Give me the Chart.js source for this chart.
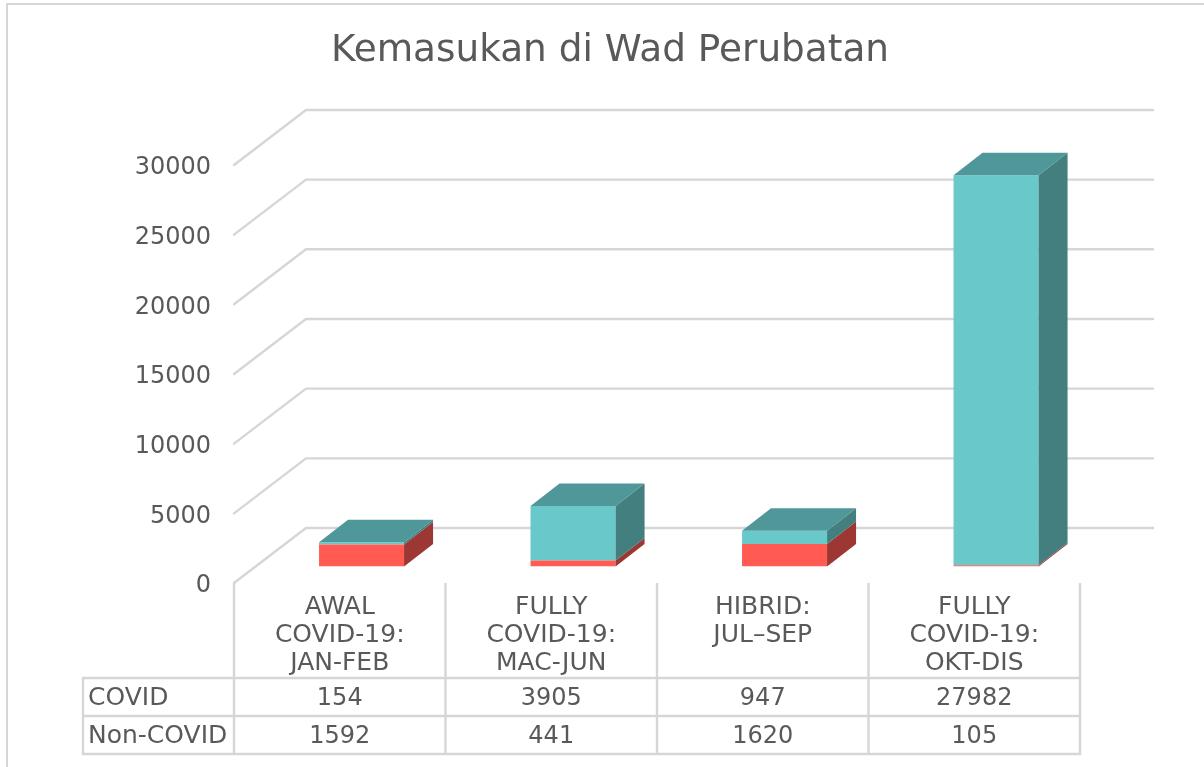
<!DOCTYPE html>
<html>
<head>
<meta charset="utf-8">
<title>Kemasukan di Wad Perubatan</title>
<script src="https://cdn.jsdelivr.net/npm/chart.js@4"></script>
<style>
html,body{margin:0;padding:0;background:#fff;overflow:hidden}
canvas{display:block}
</style>
</head>
<body>
<canvas id="c" width="1204" height="767"></canvas>
<script>
const titleText = "Kemasukan di Wad Perubatan";
const categories = [
  ["AWAL", "COVID-19:", "JAN-FEB"],
  ["FULLY", "COVID-19:", "MAC-JUN"],
  ["HIBRID:", "JUL–SEP"],
  ["FULLY", "COVID-19:", "OKT-DIS"]
];
const covidValues = [154, 3905, 947, 27982];
const nonCovidValues = [1592, 441, 1620, 105];
const covidName = "COVID";
const nonCovidName = "Non-COVID";
const yMin = 0, yMax = 30000, yStep = 5000;

const FONT = '"DejaVu Sans", Verdana, sans-serif';
const TEXT = '#595959', LINE = '#d6d6d6';
const RED = '#FF5B52', RED_SIDE = '#9C3733';
const TEAL = '#69C8CA', TEAL_SIDE = '#437F7E', TEAL_TOP = '#50979A';
// 3D projection offsets (pixels)
const WALL_DX = 72, WALL_DY = 55, WALL_RIGHT = 1153;
const BAR_SHIFT_X = 21.8, BAR_SHIFT_Y = -16.4, BAR_DX = 29, BAR_DY = 22.5;
const TABLE_LEFT = 83, TABLE_ROWS = [678, 716, 754];

const scene = {
  id: 'scene',
  beforeDraw(chart) {
    const c = chart.ctx;
    c.save();
    c.strokeStyle = LINE; c.lineWidth = 2;
    c.beginPath(); c.moveTo(7, 767); c.lineTo(7, 4); c.lineTo(1204, 4); c.stroke();
    c.restore();
  },
  afterLayout(chart) {
    // Centre the title over the frame rather than over the padded box
    chart.titleBlock.left = 16; chart.titleBlock.right = 1204;
  },
  beforeDatasetsDraw(chart) {
    const c = chart.ctx, y = chart.scales.y, x = chart.scales.x;
    const L = chart.chartArea.left, R = chart.chartArea.right, B = chart.chartArea.bottom;
    c.save();
    c.strokeStyle = LINE; c.lineWidth = 2.4; c.lineCap = 'round'; c.lineJoin = 'round';
    // Side wall and back wall gridlines
    y.ticks.forEach(t => {
      const py = y.getPixelForValue(t.value);
      c.beginPath(); c.moveTo(L, py); c.lineTo(L + WALL_DX, py - WALL_DY); c.lineTo(WALL_RIGHT, py - WALL_DY); c.stroke();
    });
    // Data table
    const step = (R - L) / categories.length;
    c.lineCap = 'butt';
    c.beginPath();
    for (let i = 0; i <= categories.length; i++) {
      c.moveTo(L + i * step, B); c.lineTo(L + i * step, TABLE_ROWS[2] + 1);
    }
    c.moveTo(TABLE_LEFT, TABLE_ROWS[0]); c.lineTo(TABLE_LEFT, TABLE_ROWS[2] + 1);
    TABLE_ROWS.forEach(r => { c.moveTo(TABLE_LEFT - 1, r); c.lineTo(R + 1, r); });
    c.stroke();
    c.fillStyle = TEXT; c.textBaseline = 'middle';
    const rows = [[covidName, covidValues], [nonCovidName, nonCovidValues]];
    rows.forEach(([name, vals], r) => {
      const my = (TABLE_ROWS[r] + TABLE_ROWS[r + 1]) / 2 + 1.5;
      c.font = '25px ' + FONT;
      c.textAlign = 'left'; c.fillText(name, 88, my);
      c.font = '24px ' + FONT;
      c.textAlign = 'center';
      vals.forEach((v, i) => c.fillText(String(v), x.getPixelForTick(i), my));
    });
    c.restore();
    // Bars sit partway into the floor's depth
    c.save();
    c.translate(BAR_SHIFT_X, BAR_SHIFT_Y);
  },
  afterDatasetsDraw(chart) {
    const c = chart.ctx;
    const sides = [RED_SIDE, TEAL_SIDE];
    chart.data.datasets.forEach((ds, di) => {
      chart.getDatasetMeta(di).data.forEach(el => {
        const r = el.x + el.width / 2;
        c.fillStyle = sides[di];
        c.beginPath();
        c.moveTo(r, el.y); c.lineTo(r + BAR_DX, el.y - BAR_DY);
        c.lineTo(r + BAR_DX, el.base - BAR_DY); c.lineTo(r, el.base);
        c.closePath(); c.fill();
      });
    });
    const top = chart.getDatasetMeta(chart.data.datasets.length - 1).data;
    top.forEach(el => {
      const l = el.x - el.width / 2, r = el.x + el.width / 2;
      c.fillStyle = TEAL_TOP;
      c.beginPath();
      c.moveTo(l, el.y); c.lineTo(l + BAR_DX, el.y - BAR_DY);
      c.lineTo(r + BAR_DX, el.y - BAR_DY); c.lineTo(r, el.y);
      c.closePath(); c.fill();
    });
    c.restore();
  }
};

new Chart(document.getElementById('c'), {
  type: 'bar',
  plugins: [scene],
  data: {
    labels: categories,
    datasets: [
      { label: nonCovidName, data: nonCovidValues, backgroundColor: RED, borderWidth: 0 },
      { label: covidName, data: covidValues, backgroundColor: TEAL, borderWidth: 0 }
    ]
  },
  options: {
    responsive: false,
    animation: false,
    devicePixelRatio: 1,
    barPercentage: 1,
    categoryPercentage: 0.402,
    layout: { padding: { left: 0, right: 124, top: 0, bottom: 0 } },
    plugins: {
      legend: { display: false },
      tooltip: { enabled: false },
      title: {
        display: true,
        text: titleText,
        color: TEXT,
        font: { family: FONT, size: 37.4, weight: 'normal', lineHeight: 1.2 },
        padding: { top: 29, bottom: 91.1 }
      }
    },
    scales: {
      x: {
        stacked: true,
        afterFit(s) { s.height = 184; },
        grid: { display: false, drawTicks: false },
        border: { display: false },
        ticks: {
          color: TEXT, padding: 10, maxRotation: 0, autoSkip: false,
          font: { family: FONT, size: 25, lineHeight: 1.12 }
        }
      },
      y: {
        stacked: true,
        min: yMin, max: yMax,
        afterFit(s) { s.width = 234; },
        grid: { display: false, drawTicks: false },
        border: { display: false },
        ticks: {
          stepSize: yStep, color: TEXT, padding: 23, labelOffset: 3,
          font: { family: FONT, size: 24 },
          callback: v => String(v)
        }
      }
    }
  }
});
</script>
</body>
</html>
